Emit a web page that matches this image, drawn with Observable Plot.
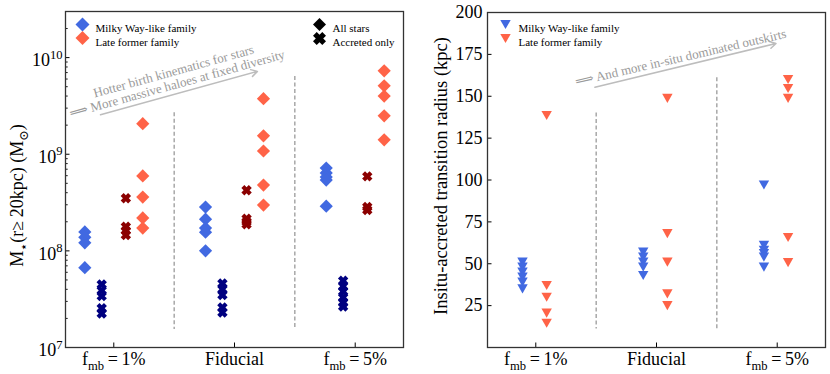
<!DOCTYPE html>
<html><head><meta charset="utf-8">
<script src="https://cdn.jsdelivr.net/npm/d3@7"></script>
<script src="https://cdn.jsdelivr.net/npm/@observablehq/plot@0.6"></script>
<style>
body{margin:0;background:#fff;}
#wrap{position:relative;width:830px;height:374px;}
#left{position:absolute;left:0;top:0;}
#right{position:absolute;left:415px;top:0;}
#wrap svg, #wrap svg text, #wrap svg tspan{font-family:"Liberation Serif","DejaVu Serif",serif !important;}
#wrap svg{overflow:visible;background:transparent;}
</style></head><body><div id="wrap"><div id="left"></div><div id="right"></div></div>
<script>
// ---------- data ----------
const categories = ["f_{mb}\u2009=\u20091%", "Fiducial", "f_{mb}\u2009=\u20095%"];
const groups = [0, 1, 2];
// Left panel: M* (r >= 20 kpc) in Msun, one list per group
const mwAllStars  = [[1.57e8, 1.38e8, 1.21e8, 6.7e7], [2.84e8, 2.13e8, 1.72e8, 1.56e8, 1.0e8], [7.2e8, 6.4e8, 5.8e8, 5.4e8, 2.9e8]];
const mwAccreted  = [[4.5e7, 3.9e7, 3.4e7, 2.55e7, 2.25e7], [4.6e7, 4.0e7, 3.5e7, 2.6e7, 2.3e7], [4.9e7, 4.3e7, 3.8e7, 3.3e7, 2.9e7, 2.65e7]];
const lfAccreted  = [[3.5e8, 1.78e8, 1.62e8, 1.46e8], [4.24e8, 2.15e8, 2.0e8, 1.88e8], [5.9e8, 2.85e8, 2.65e8]];
const lfAllStars  = [[2.07e9, 5.97e8, 3.6e8, 2.19e8, 1.72e8], [3.76e9, 1.55e9, 1.08e9, 4.8e8, 2.98e8], [7.3e9, 5.1e9, 4.0e9, 2.5e9, 1.41e9]];
const massTicks   = [1e7, 1e8, 1e9, 1e10];
// Right panel: in-situ / accreted transition radius (kpc)
const mwRadius = [[51, 48, 45, 42, 39, 35], [57, 54, 51, 48, 43], [97, 61, 58, 56, 54, 48]];
const lfRadius = [[138.5, 37, 30, 20.5, 14.5], [148.7, 68, 51, 32, 25], [160, 154.6, 148.7, 65.7, 50.7]];
const radiusTicks = [25, 50, 75, 100, 125, 150, 175, 200];
// separators and annotations
const sepX = [0.5, 1.5];
const sepTopL = [2.68e9, 6.37e9], sepBotL = [1.54e7, 1.54e7];
const sepTopR = [140, 161], sepBotR = [11, 11];
const noteL = "Hotter birth kinematics for stars\n\u27F9 More massive haloes at fixed diversity";
const noteR = "\u27F9 And more in-situ dominated outskirts";
const legendFamilies = ["Milky Way-like family", "Late former family"];
const legendKinds = ["All stars", "Accreted only"];

// ---------- styles / layout ----------
const C = {mw: "royalblue", lf: "tomato", mwAcc: "#000080", lfAcc: "#8b0000"};
const offL = {mwAll: -0.24, mwAcc: -0.10, lfAcc: 0.10, lfAll: 0.24};
const offR = {mw: -0.11, lf: 0.09};
const SERIF = "Liberation Serif";
const STYLE = "font-family: 'Liberation Serif', serif; font-size: 18px; background: transparent; color: black; overflow: visible;";

const diamond = {draw(ctx, size) { const r = Math.sqrt(size / Math.PI); ctx.moveTo(0, -r); ctx.lineTo(r, 0); ctx.lineTo(0, r); ctx.lineTo(-r, 0); ctx.closePath(); }};
const triDown = {draw(ctx, size) { const r = Math.sqrt(size / Math.PI); const h = r * 0.88; ctx.moveTo(-r, -h); ctx.lineTo(r, -h); ctx.lineTo(0, h); ctx.closePath(); }};
const xFilled = {draw(ctx, size) {
  const r = Math.sqrt(size / Math.PI);
  const L = r * Math.SQRT2 / 1.4, w = 0.4 * L;
  const pts = [[-w,-L],[w,-L],[w,-w],[L,-w],[L,w],[w,w],[w,L],[-w,L],[-w,w],[-L,w],[-L,-w],[-w,-w]]
    .map(([x, y]) => [(x - y) / Math.SQRT2, (x + y) / Math.SQRT2]);
  ctx.moveTo(pts[0][0], pts[0][1]); for (const p of pts.slice(1)) ctx.lineTo(p[0], p[1]); ctx.closePath();
}};

function rows(lists, off) { return lists.flatMap((vals, g) => vals.map(v => ({x: g + off, v}))); }
function minorLog(lo, hi) { const out = []; for (let e = 6; e <= 11; e++) for (let k = 2; k <= 9; k++) { const v = k * 10 ** e; if (v > lo && v < hi) out.push(v); } return out; }

function richify(root) {
  const NS = "http://www.w3.org/2000/svg";
  root.querySelectorAll("text").forEach(t => {
    const leaves = t.querySelector("tspan") ? [...t.querySelectorAll("tspan")] : [t];
    leaves.forEach(el => {
      const s = el.textContent;
      if (!/[_^]\{/.test(s)) return;
      const fs = parseFloat(getComputedStyle(el).fontSize) || 12;
      el.textContent = "";
      const re = /([_^])\{([^}]*)\}/g; let last = 0, m, off = 0;
      const add = (txt, kind) => {
        const ts = document.createElementNS(NS, "tspan");
        const target = kind === "_" ? 0.25 * fs : kind === "^" ? -0.42 * fs : 0;
        const d = target - off; off = target;
        if (d) ts.setAttribute("dy", d);
        if (kind) ts.setAttribute("font-size", 0.7 * fs);
        ts.textContent = txt; el.appendChild(ts);
      };
      while ((m = re.exec(s))) { if (m.index > last) add(s.slice(last, m.index), ""); add(m[2], m[1]); last = re.lastIndex; }
      if (last < s.length) add(s.slice(last), "");
    });
  });
}

function legendMarks(items, symbols, fills, dx0, dy0, step, r, fs) {
  return items.flatMap((label, i) => [
    Plot.dot([label], {frameAnchor: "top-left", dx: dx0, dy: dy0 + i * step, symbol: symbols[i], r, fill: fills[i]}),
    Plot.text([label], {frameAnchor: "top-left", dx: dx0 + 13, dy: dy0 + i * step, textAnchor: "start", fontSize: fs, fontFamily: SERIF})
  ]);
}

// ---------- left panel ----------
const W = 415, H = 374;
const mL = {top: 11, right: 12, bottom: 27, left: 65};
const pwL = W - mL.left - mL.right, phL = H - mL.top - mL.bottom;
const massDomain = [1e7, 3.0e10];

const leftPlot = Plot.plot({
  width: W, height: H,
  marginTop: mL.top, marginRight: mL.right, marginBottom: mL.bottom, marginLeft: mL.left,
  style: STYLE,
  x: {domain: [-0.4, 2.4]},
  y: {type: "log", domain: massDomain},
  marks: [
    Plot.ruleX(sepX.map((x, i) => ({x, y1: sepTopL[i], y2: sepBotL[i]})), {x: "x", y1: "y1", y2: "y2", stroke: "#888", strokeWidth: 1.1, strokeDasharray: "4,2.5"}),
    Plot.dot(rows(mwAllStars, offL.mwAll), {x: "x", y: "v", symbol: diamond, r: 6.6, fill: C.mw}),
    Plot.dot(rows(mwAccreted, offL.mwAcc), {x: "x", y: "v", symbol: xFilled, r: 5.2, fill: C.mwAcc}),
    Plot.dot(rows(lfAccreted, offL.lfAcc), {x: "x", y: "v", symbol: xFilled, r: 5.2, fill: C.lfAcc}),
    Plot.dot(rows(lfAllStars, offL.lfAll), {x: "x", y: "v", symbol: diamond, r: 6.6, fill: C.lf}),
    Plot.arrow([{x1: -0.11, y1: 2.56e9, x2: 1.19, y2: 7.2e9}], {x1: "x1", y1: "y1", x2: "x2", y2: "y2", stroke: "#bdbdbd", strokeWidth: 1.5, headLength: 7}),
    Plot.text([{x: 0.51, y: 6.2e9, t: noteL}], {x: "x", y: "y", text: "t", rotate: -15.5, fill: "#9a9a9a", fontSize: 13, lineHeight: 1.0, fontFamily: SERIF}),
    Plot.tickY(minorLog(...massDomain), {y: d => d, insetRight: pwL - 2.7, stroke: "black", strokeWidth: 0.9}),
    Plot.tickY(massTicks, {y: d => d, insetRight: pwL - 4.5, stroke: "black", strokeWidth: 1}),
    Plot.tickX(groups, {x: d => d, insetTop: phL - 4.5, stroke: "black", strokeWidth: 1}),
    Plot.axisY(massTicks, {tickSize: 0, tickPadding: 3, dy: 3, label: null, fontSize: 18, fontFamily: SERIF, tickFormat: d => `10^{${Math.round(Math.log10(d))}}`}),
    Plot.axisX(groups, {tickSize: 0, tickPadding: 5, label: null, fontSize: 18, fontFamily: SERIF, tickFormat: i => categories[i]}),
    Plot.text(["M_{\u22C6}(r\u2265\u200920kpc) (M_{\u2299})"], {frameAnchor: "left", textAnchor: "middle", rotate: -90, dx: -48, dy: 16, fontSize: 18, fontFamily: SERIF}),
    ...legendMarks(legendFamilies, [diamond, diamond], [C.mw, C.lf], 17, 13, 13.5, 7, 11),
    ...legendMarks(legendKinds, [diamond, xFilled], ["black", "black"], 254, 13, 14, 6.5, 11),
    Plot.frame({stroke: "#333", strokeWidth: 1.3})
  ]
});

// ---------- right panel ----------
const mR = {top: 12, right: 5, bottom: 27, left: 72};
const pwR = W - mR.left - mR.right, phR = H - mR.top - mR.bottom;
const rightPlot = Plot.plot({
  width: W, height: H,
  marginTop: mR.top, marginRight: mR.right, marginBottom: mR.bottom, marginLeft: mR.left,
  style: STYLE,
  x: {domain: [-0.4, 2.4]},
  y: {domain: [0, 200]},
  marks: [
    Plot.ruleX(sepX.map((x, i) => ({x, y1: sepTopR[i], y2: sepBotR[i]})), {x: "x", y1: "y1", y2: "y2", stroke: "#888", strokeWidth: 1.1, strokeDasharray: "4,2.5"}),
    Plot.dot(rows(mwRadius, offR.mw), {x: "x", y: "v", symbol: triDown, r: 5.2, fill: C.mw}),
    Plot.dot(rows(lfRadius, offR.lf), {x: "x", y: "v", symbol: triDown, r: 5.2, fill: C.lf}),
    Plot.arrow([{x1: 0.49, y1: 155.4, x2: 1.99, y2: 181.5}], {x1: "x1", y1: "y1", x2: "x2", y2: "y2", stroke: "#bdbdbd", strokeWidth: 1.5, headLength: 7}),
    Plot.text([{x: 1.2, y: 173, t: noteR}], {x: "x", y: "y", text: "t", rotate: -13, fill: "#9a9a9a", fontSize: 13, fontFamily: SERIF}),
    Plot.tickY(radiusTicks, {y: d => d, insetRight: pwR - 4.5, stroke: "black", strokeWidth: 1}),
    Plot.tickX(groups, {x: d => d, insetTop: phR - 4.5, stroke: "black", strokeWidth: 1}),
    Plot.axisY(radiusTicks, {tickSize: 0, tickPadding: 5, label: null, fontSize: 18, fontFamily: SERIF}),
    Plot.axisX(groups, {tickSize: 0, tickPadding: 5, label: null, fontSize: 18, fontFamily: SERIF, tickFormat: i => categories[i]}),
    Plot.text(["Insitu-accreted transition radius (kpc)"], {frameAnchor: "left", textAnchor: "middle", rotate: -90, dx: -46, dy: -4, fontSize: 18.5, fontFamily: SERIF}),
    ...legendMarks(legendFamilies, [triDown, triDown], [C.mw, C.lf], 18, 12, 14, 5.2, 11),
    Plot.frame({stroke: "#333", strokeWidth: 1.3})
  ]
});

document.getElementById("left").appendChild(leftPlot);
document.getElementById("right").appendChild(rightPlot);
richify(leftPlot); richify(rightPlot);
</script>
</body></html>
